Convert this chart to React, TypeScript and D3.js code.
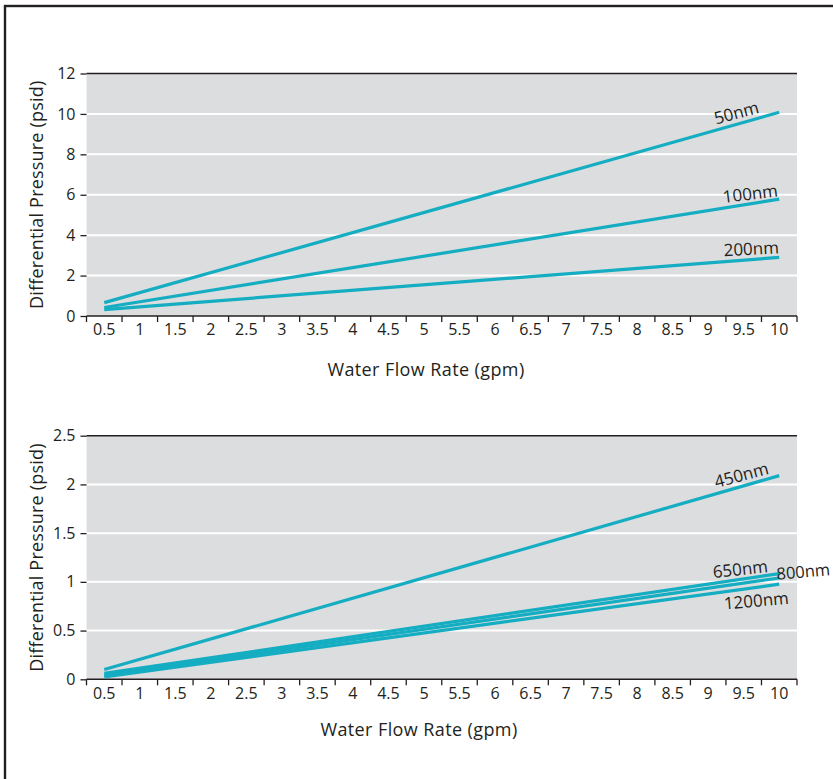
import React, { useEffect, useRef } from 'react';
import * as d3 from "d3";

// x categories (gpm)
const flowRates = ["0.5", "1", "1.5", "2", "2.5", "3", "3.5", "4", "4.5", "5",
  "5.5", "6", "6.5", "7", "7.5", "8", "8.5", "9", "9.5", "10"];
// every line is measured at the first and last flow rate
const lineFlows = ["0.5", "10"];

// top chart
const topTicks = [0, 2, 4, 6, 8, 10, 12];
const topNames = ["50nm", "100nm", "200nm"];
const top50nm = [0.66, 10.08];
const top100nm = [0.42, 5.78];
const top200nm = [0.32, 2.9];

// bottom chart
const bottomTicks = [0, 0.5, 1, 1.5, 2, 2.5];
const bottomNames = ["450nm", "650nm", "800nm", "1200nm"];
const bottom450nm = [0.1, 2.09];
const bottom650nm = [0.06, 1.085];
const bottom800nm = [0.04, 1.04];
const bottom1200nm = [0.025, 0.976];

const LINE = "#14adc2";
const INK = "#231f20";
const FONT = "'Open Sans', sans-serif";

function drawPanel(svg, opts) {
  const { top, bottom, ticks, names, series, labels, titleX, titleGap } = opts;
  const left = 86.5, right = 797;

  const x = d3.scaleBand().domain(flowRates).range([left, right]).padding(0);
  const y = d3.scaleLinear().domain([0, d3.max(ticks)]).range([bottom, top]);
  const cx = d => x(d) + x.bandwidth() / 2;

  const g = svg.append("g");

  g.append("rect")
    .attr("x", left).attr("y", y(d3.max(ticks)))
    .attr("width", right - left).attr("height", bottom - y(d3.max(ticks)))
    .attr("fill", "#dcdddf");

  // white grid
  g.selectAll(".grid")
    .data(ticks.slice(1, -1))
    .enter().append("line")
      .attr("x1", left).attr("x2", right)
      .attr("y1", d => y(d)).attr("y2", d => y(d))
      .attr("stroke", "#fff")
      .attr("stroke-width", 2);

  // y axis (ticks + labels only)
  const yAxis = g.append("g")
    .attr("transform", "translate(" + left + ",0)")
    .attr("font-size", 16)
    .call(d3.axisLeft(y).tickValues(ticks).tickSize(6).tickPadding(5).tickFormat(d3.format("")));
  yAxis.select(".domain").remove();
  yAxis.selectAll("line").attr("stroke", INK).attr("stroke-width", 1.3);
  yAxis.selectAll("text")
    .attr("fill", INK)
    .style("font-family", FONT)
    .style("font-size", "16px");

  // dark top and bottom lines
  [d3.max(ticks), 0].forEach(v => {
    g.append("line")
      .attr("x1", left).attr("x2", right)
      .attr("y1", y(v)).attr("y2", y(v))
      .attr("stroke", INK)
      .attr("stroke-width", 1.6);
  });

  // x ticks sit on the band edges, labels in the middle of each band
  const edges = flowRates.map(d => x(d)).concat([right]);
  g.selectAll(".xtick")
    .data(edges)
    .enter().append("line")
      .attr("x1", d => d).attr("x2", d => d)
      .attr("y1", bottom).attr("y2", bottom + 6)
      .attr("stroke", INK)
      .attr("stroke-width", 1.3);

  const xAxis = g.append("g")
    .attr("transform", "translate(0," + bottom + ")")
    .call(d3.axisBottom(x).tickSize(0).tickPadding(8));
  xAxis.select(".domain").remove();
  xAxis.selectAll("text")
    .attr("fill", INK)
    .style("font-family", FONT)
    .style("font-size", "16px");

  // lines
  const line = d3.line()
    .x(d => cx(d[0]))
    .y(d => y(d[1]));

  series.forEach((vals, i) => {
    const pts = lineFlows.map((f, j) => [f, vals[j]]);
    g.append("path")
      .datum(pts)
      .attr("d", line)
      .attr("fill", "none")
      .attr("stroke", LINE)
      .attr("stroke-width", 3.2);

    const lab = labels[i];
    const ex = cx(lineFlows[1]) + lab.dx;
    const ey = y(vals[1]) + lab.dy;
    g.append("text")
      .attr("transform", "translate(" + ex + "," + ey + ") rotate(" + lab.angle + ")")
      .attr("text-anchor", "middle")
      .attr("dominant-baseline", "central")
      .attr("fill", INK)
      .style("font-family", FONT)
      .style("font-size", lab.size || "17px")
      .text(names[i]);
  });

  // titles
  g.append("text")
    .attr("transform", "translate(36," + (top + bottom) / 2 + ") rotate(-90)")
    .attr("text-anchor", "middle")
    .attr("dominant-baseline", "central")
    .attr("fill", INK)
    .style("font-family", FONT)
    .style("font-size", "18px")
    .style("letter-spacing", "0.2px")
    .text("Differential Pressure (psid)");

  g.append("text")
    .attr("x", titleX)
    .attr("y", bottom + titleGap)
    .attr("text-anchor", "middle")
    .attr("fill", INK)
    .style("font-family", FONT)
    .style("font-size", "18px")
    .style("letter-spacing", "0.4px")
    .text("Water Flow Rate (gpm)");
}

function App() {
  const graphRef = useRef();

  function drawChart() {
    d3.select(graphRef.current).selectAll("*").remove();
    const svg = d3.select(graphRef.current);

    svg.append("rect")
      .attr("width", 833).attr("height", 779)
      .attr("fill", "#fff");

    // outer frame, runs off the right and bottom edges
    svg.append("rect")
      .attr("x", 5).attr("y", 6)
      .attr("width", 900).attr("height", 900)
      .attr("fill", "none")
      .attr("stroke", INK)
      .attr("stroke-width", 2.4);

    drawPanel(svg, {
      top: 73.5, bottom: 316,
      ticks: topTicks,
      names: topNames,
      series: [top50nm, top100nm, top200nm],
      labels: [
        { dx: -43, dy: 0, angle: -15 },
        { dx: -29, dy: -6, angle: -7 },
        { dx: -28, dy: -9, angle: -3 }
      ],
      titleX: 426,
      titleGap: 60
    });

    drawPanel(svg, {
      top: 435.7, bottom: 679.3,
      ticks: bottomTicks,
      names: bottomNames,
      series: [bottom450nm, bottom650nm, bottom800nm, bottom1200nm],
      labels: [
        { dx: -38, dy: -1, angle: -15 },
        { dx: -39, dy: -5, angle: -6 },
        { dx: 24, dy: -7, angle: -5, size: "16.5px" },
        { dx: -23, dy: 16, angle: -5 }
      ],
      titleX: 419,
      titleGap: 57
    });
  }

  useEffect(() => {
    drawChart();
  }, []);

  return (
    <svg ref={graphRef} width={833} height={779}
      style={{ position: "absolute", left: 0, top: 0, display: "block" }}></svg>
  );
}

export default App;
